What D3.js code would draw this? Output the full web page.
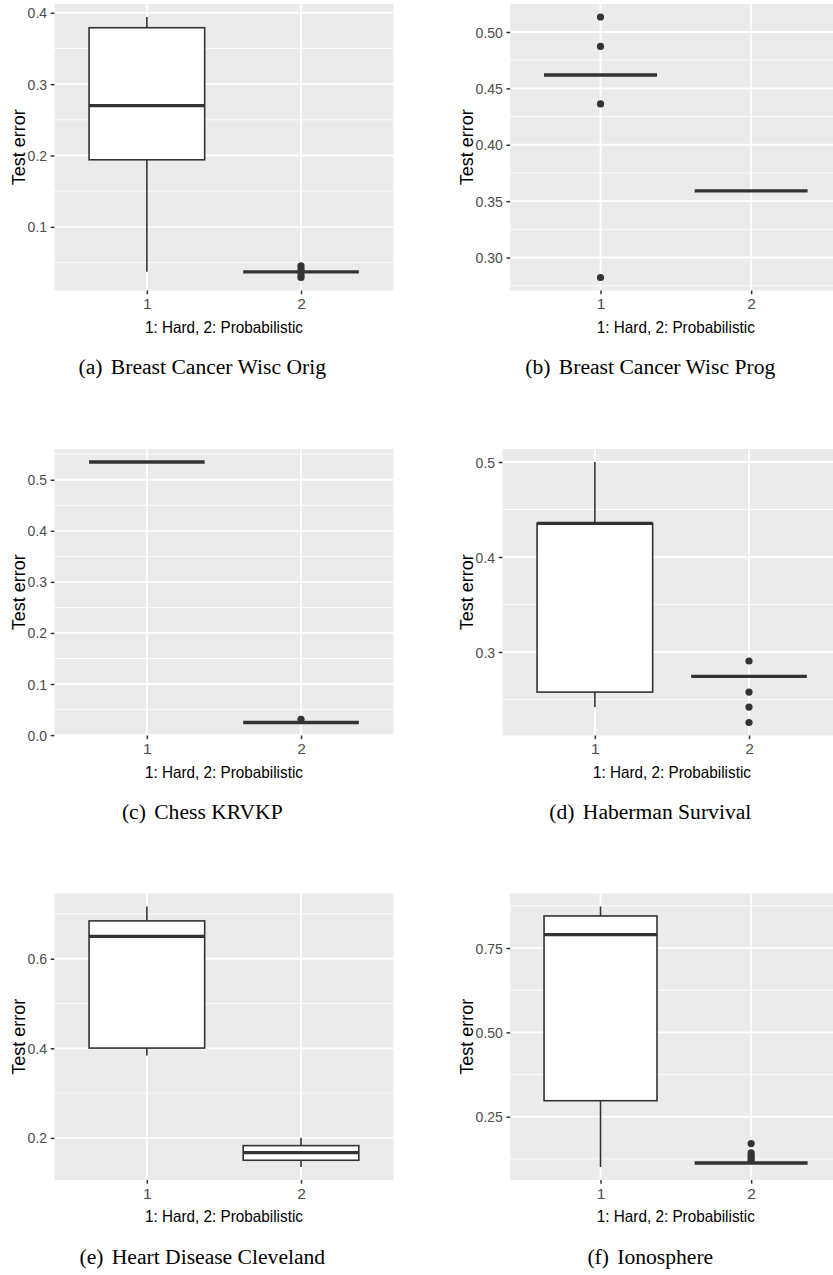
<!DOCTYPE html>
<html><head><meta charset="utf-8">
<script src="https://cdn.jsdelivr.net/npm/d3@7"></script>
<style>html,body{margin:0;padding:0;background:#fff;} svg{display:block;}</style>
</head><body>
<svg id="chart" width="833" height="1275"></svg>
<script>
// ---------------- data ----------------
const categories = ["1", "2"];
const captionTags = ["(a)", "(b)", "(c)", "(d)", "(e)", "(f)"];
const captionNames = ["Breast Cancer Wisc Orig", "Breast Cancer Wisc Prog", "Chess KRVKP",
                      "Haberman Survival", "Heart Disease Cleveland", "Ionosphere"];
const xTitle = "1: Hard, 2: Probabilistic";
const yTitle = "Test error";

// each row: [lower whisker, Q1, median, Q3, upper whisker] for group 1 (Hard) and group 2 (Probabilistic)
const statsA = [[0.037, 0.194, 0.270, 0.379, 0.394], [0.037, 0.037, 0.037, 0.037, 0.037]];
const outliersA = [[], [0.0454, 0.0408, 0.0324, 0.0291]];
const ticksA = ["0.1", "0.2", "0.3", "0.4"];

const statsB = [[0.4619, 0.4619, 0.4619, 0.4619, 0.4619], [0.3591, 0.3591, 0.3591, 0.3591, 0.3591]];
const outliersB = [[0.5133, 0.4872, 0.4362, 0.2823], []];
const ticksB = ["0.30", "0.35", "0.40", "0.45", "0.50"];

const statsC = [[0.5347, 0.5347, 0.5347, 0.5347, 0.5347], [0.0247, 0.0247, 0.0247, 0.0247, 0.0247]];
const outliersC = [[], [0.031]];
const ticksC = ["0.0", "0.1", "0.2", "0.3", "0.4", "0.5"];

const statsD = [[0.242, 0.2578, 0.4354, 0.4354, 0.500], [0.2743, 0.2743, 0.2743, 0.2743, 0.2743]];
const outliersD = [[], [0.2905, 0.2578, 0.242, 0.2258]];
const ticksD = ["0.3", "0.4", "0.5"];

const statsE = [[0.384, 0.4005, 0.650, 0.6845, 0.7166], [0.135, 0.150, 0.167, 0.1827, 0.200]];
const outliersE = [[], []];
const ticksE = ["0.2", "0.4", "0.6"];

const statsF = [[0.1012, 0.2976, 0.7896, 0.845, 0.873], [0.113, 0.113, 0.113, 0.113, 0.113]];
const outliersF = [[], [0.1706, 0.143, 0.135, 0.128, 0.121]];
const ticksF = ["0.25", "0.50", "0.75"];

const allStats = [statsA, statsB, statsC, statsD, statsE, statsF];
const allOutliers = [outliersA, outliersB, outliersC, outliersD, outliersE, outliersF];
const allTicks = [ticksA, ticksB, ticksC, ticksD, ticksE, ticksF];

// ---------------- drawing ----------------
const svg = d3.select("#chart");
const colX = [0, 448];
const rowY = [0, 445, 889.5];
const SANS = "'Liberation Sans', Arial, Helvetica, sans-serif";
const SERIF = "'Liberation Serif', 'Times New Roman', Times, serif";
const TICK_FS = 14;

function textWidth(str, fs) {
  const t = svg.append("text").attr("font-family", SANS).attr("font-size", fs).text(str);
  const w = t.node().getComputedTextLength();
  t.remove();
  return w;
}

allStats.forEach((stats, i) => {
  const ox = colX[i % 2], oy = rowY[Math.floor(i / 2)];
  const outs = allOutliers[i];
  const tickLabels = allTicks[i];
  const tickVals = tickLabels.map(Number);

  const maxW = d3.max(tickLabels, s => textWidth(s, TICK_FS));
  const left = ox + 27.6 + maxW + 7.3;
  const right = ox + 393.5;
  const top = oy + 4;
  const bottom = oy + 290.5;

  const vals = stats.flat().concat(outs.flat());
  const lo = d3.min(vals), hi = d3.max(vals);
  const pad = (hi - lo) * 0.05;
  const y = d3.scaleLinear().domain([lo - pad, hi + pad]).range([bottom, top]);
  const x = d3.scalePoint().domain(categories).range([left, right]).padding(0.6);
  const bw = x.step() * 0.75;

  const g = svg.append("g");
  g.append("rect").attr("x", left).attr("y", top).attr("width", right - left).attr("height", bottom - top)
    .attr("fill", "#EBEBEB");

  // minor gridlines
  const step = tickVals[1] - tickVals[0];
  const minor = [];
  for (let k = -1; k < tickVals.length; k++) {
    const v = tickVals[0] + (k + 0.5) * step;
    if (v >= y.domain()[0] && v <= y.domain()[1]) minor.push(v);
  }
  g.selectAll(".minor").data(minor).join("line")
    .attr("x1", left).attr("x2", right).attr("y1", d => y(d)).attr("y2", d => y(d))
    .attr("stroke", "#fff").attr("stroke-width", 0.9);
  g.selectAll(".major").data(tickVals).join("line")
    .attr("x1", left).attr("x2", right).attr("y1", d => y(d)).attr("y2", d => y(d))
    .attr("stroke", "#fff").attr("stroke-width", 1.8);
  g.selectAll(".vmajor").data(categories).join("line")
    .attr("x1", d => x(d)).attr("x2", d => x(d)).attr("y1", top).attr("y2", bottom)
    .attr("stroke", "#fff").attr("stroke-width", 1.8);

  // boxes
  stats.forEach((s, j) => {
    const cx = x(categories[j]);
    const bg = g.append("g");
    bg.append("line").attr("x1", cx).attr("x2", cx).attr("y1", y(s[4])).attr("y2", y(s[3]))
      .attr("stroke", "#333").attr("stroke-width", 1.6);
    bg.append("line").attr("x1", cx).attr("x2", cx).attr("y1", y(s[1])).attr("y2", y(s[0]))
      .attr("stroke", "#333").attr("stroke-width", 1.6);
    bg.append("rect").attr("x", cx - bw / 2).attr("width", bw)
      .attr("y", y(s[3])).attr("height", Math.max(0, y(s[1]) - y(s[3])))
      .attr("fill", "#fff").attr("stroke", "#333").attr("stroke-width", 1.6);
    bg.append("line").attr("x1", cx - bw / 2).attr("x2", cx + bw / 2).attr("y1", y(s[2])).attr("y2", y(s[2]))
      .attr("stroke", "#333").attr("stroke-width", 3.3);
    bg.selectAll("circle").data(outs[j]).join("circle")
      .attr("cx", cx).attr("cy", d => y(d)).attr("r", 3.6).attr("fill", "#333");
  });

  // axes
  const ya = g.append("g").attr("transform", `translate(${left},0)`)
    .call(d3.axisLeft(y).tickValues(tickVals).tickFormat((d, k) => tickLabels[k]).tickSize(3.7).tickPadding(3.6));
  ya.select(".domain").remove();
  ya.selectAll(".tick line").attr("stroke", "#333").attr("stroke-width", 1.5);
  ya.selectAll(".tick text").attr("fill", "#4D4D4D").attr("font-size", TICK_FS).attr("font-family", SANS)
    .attr("dy", "0.36em");

  const xa = g.append("g").attr("transform", `translate(0,${bottom})`)
    .call(d3.axisBottom(x).tickSize(3.7));
  xa.select(".domain").remove();
  xa.selectAll(".tick line").attr("stroke", "#333").attr("stroke-width", 1.5);
  xa.selectAll(".tick text").attr("fill", "#4D4D4D").attr("font-size", 15.5).attr("font-family", SANS)
    .attr("y", 18.8).attr("dy", null);

  // titles
  g.append("text").attr("x", (left + right) / 2).attr("y", bottom + 42.3)
    .attr("text-anchor", "middle").attr("font-family", SANS).attr("font-size", 16.5)
    .attr("textLength", 158).attr("lengthAdjust", "spacingAndGlyphs")
    .attr("fill", "#000").text(xTitle);
  g.append("text").attr("transform", `translate(${ox + 25},${(top + bottom) / 2}) rotate(-90)`)
    .attr("text-anchor", "middle").attr("font-family", SANS).attr("font-size", 18)
    .attr("fill", "#000").text(yTitle);

  // caption
  const cap = g.append("text").attr("x", ox + 202.3).attr("y", oy + 374)
    .attr("text-anchor", "middle").attr("font-family", SERIF).attr("font-size", 21.6).attr("fill", "#000");
  cap.append("tspan").text(captionTags[i]);
  cap.append("tspan").attr("dx", 8.3).text(captionNames[i]);
});
</script>
</body></html>
